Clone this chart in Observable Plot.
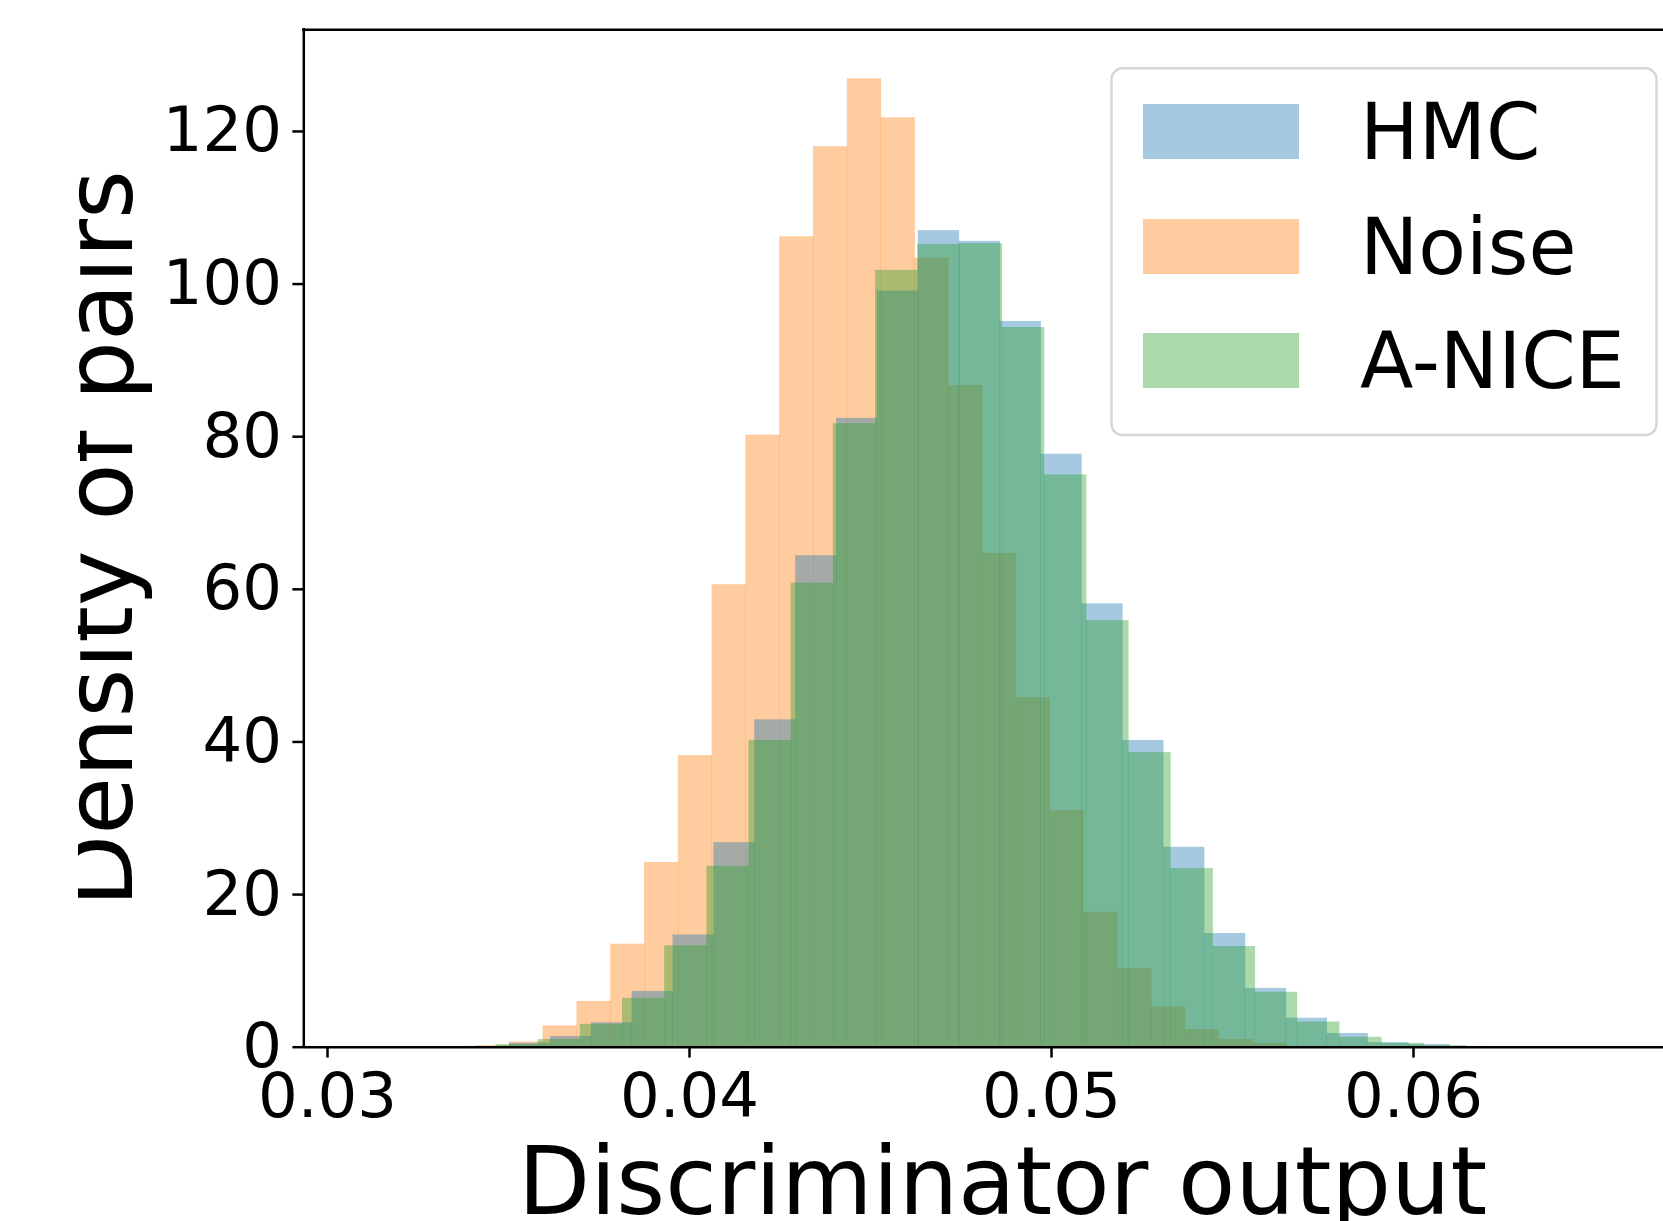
<!DOCTYPE html>
<html>
<head>
<meta charset="utf-8">
<script src="https://cdn.jsdelivr.net/npm/d3@7"></script>
<script src="https://cdn.jsdelivr.net/npm/@observablehq/plot@0.6"></script>
<style>
  html, body { margin: 0; padding: 0; background: white; overflow: hidden; }
  #chart svg { max-width: none !important; display: block; }
</style>
</head>
<body>
<div id="chart"></div>
<script>
// ---------------- data ----------------
const seriesNames = ["HMC", "Noise", "A-NICE"];
const seriesColors = ["#1f77b4", "#ff7f0e", "#2ca02c"];
// drawing order (bottom to top) as seen from the colour blends in the reference
const drawOrder = ["Noise", "HMC", "A-NICE"];

// HMC histogram (density), 30 uniform bins
const hmcFirstEdge = 0.031641;
const hmcBinWidth = 0.0011291;
const hmcDensity = [0.05, 0.05, 0.1, 0.5, 1.4, 3.2, 7.3, 14.7, 26.8, 42.9,
  64.4, 82.4, 99.1, 107.0, 105.6, 95.1, 77.7, 58.1, 40.2, 26.2,
  14.9, 7.7, 3.8, 1.8, 0.6, 0.35, 0.1, 0.05, 0.03, 0.02];

// Noise histogram (density), 30 uniform bins
const noiseFirstEdge = 0.031287;
const noiseBinWidth = 0.0009337;
const noiseDensity = [0.02, 0.02, 0.05, 0.2, 0.7, 2.8, 6.0, 13.5, 24.2, 38.2,
  60.6, 80.2, 106.2, 118.0, 126.9, 121.8, 103.4, 86.7, 64.7, 45.8,
  31.0, 17.7, 10.3, 5.3, 2.3, 1.0, 0.5, 0.1, 0.05, 0.02];

// A-NICE histogram (density), 30 uniform bins
const aniceFirstEdge = 0.03116;
const aniceBinWidth = 0.0011649;
const aniceDensity = [0.02, 0.05, 0.1, 0.35, 1.0, 3.0, 6.4, 13.3, 23.7, 40.2,
  60.8, 81.7, 101.8, 105.2, 105.3, 94.3, 75.0, 55.9, 38.6, 23.4,
  13.2, 7.2, 3.3, 1.3, 0.5, 0.2, 0.08, 0.04, 0.02, 0.02];

const xDomain = [0.029345, 0.066906];
const yDomain = [0, 133.32];
const xTicks = [0.03, 0.04, 0.05, 0.06];
const yTicks = [0, 20, 40, 60, 80, 100, 120];
const xLabel = "Discriminator output";
const yLabel = "Density of pairs";

// ---------------- build table ----------------
const hist = {
  "HMC": [hmcFirstEdge, hmcBinWidth, hmcDensity],
  "Noise": [noiseFirstEdge, noiseBinWidth, noiseDensity],
  "A-NICE": [aniceFirstEdge, aniceBinWidth, aniceDensity]
};
const rows = [];
drawOrder.forEach(name => {
  const [first, width, dens] = hist[name];
  dens.forEach((d, i) => rows.push({series: name, x1: first + i * width, x2: first + (i + 1) * width, density: d}));
});

const W = 1663, H = 1221;
const font = "DejaVu Sans";

const chart = Plot.plot({
  width: W,
  height: H,
  marginLeft: 303.3,
  marginRight: 0,
  marginTop: 29.3,
  marginBottom: 174.3,
  style: {fontFamily: font, fontSize: "62.5px", color: "black", background: "white", overflow: "visible"},
  x: {domain: xDomain},
  y: {domain: yDomain},
  color: {domain: seriesNames, range: seriesColors},
  marks: [
    Plot.rectY(rows, {x1: "x1", x2: "x2", y: "density", fill: "series", fillOpacity: 0.4, insetLeft: 0, insetRight: -0.5}),
    Plot.axisX({ticks: xTicks, tickFormat: d3.format(".2f"), tickSize: 10.9, tickPadding: 15, strokeWidth: 2.5, fontSize: 62.5, label: null}),
    Plot.axisY({ticks: yTicks, tickFormat: d3.format("d"), tickSize: 10.9, tickPadding: 10.9, strokeWidth: 2.5, fontSize: 62.5, label: null}),
    Plot.ruleY([yDomain[0]], {stroke: "black", strokeWidth: 2.5}),
    Plot.ruleY([yDomain[1]], {stroke: "black", strokeWidth: 2.5, strokeLinecap: "square"}),
    Plot.ruleX([xDomain[0]], {stroke: "black", strokeWidth: 2.5, strokeLinecap: "square"}),
    Plot.text([xLabel], {frameAnchor: "bottom", textAnchor: "middle", lineAnchor: "bottom", dx: 19, dy: 166.6, fontSize: 93.75, fill: "black"}),
    Plot.text([yLabel], {frameAnchor: "left", textAnchor: "middle", lineAnchor: "bottom", rotate: -90, dx: -171.6, fontSize: 93.75, fill: "black"})
  ]
});
document.getElementById("chart").appendChild(chart);

// ---------------- clip the y label on its left side as in the reference ----------------
const svg = d3.select(chart);
const defs = svg.insert("defs", ":first-child");
defs.append("clipPath").attr("id", "ylabclip")
  .append("rect").attr("x", 78).attr("y", 0).attr("width", W).attr("height", H);
const ytext = svg.selectAll("text").filter(function () { return this.textContent === yLabel; });
if (!ytext.empty()) {
  const g = ytext.node().parentNode;
  const wrapper = document.createElementNS("http://www.w3.org/2000/svg", "g");
  wrapper.setAttribute("clip-path", "url(#ylabclip)");
  g.parentNode.insertBefore(wrapper, g);
  wrapper.appendChild(g);
}

// ---------------- legend ----------------
const leg = svg.append("g").attr("class", "legend").attr("font-family", font).attr("text-anchor", "start");
leg.append("rect")
  .attr("x", 1111.5).attr("y", 68.3).attr("width", 545).attr("height", 366.7)
  .attr("rx", 11).attr("ry", 11)
  .attr("fill", "white").attr("fill-opacity", 0.8)
  .attr("stroke", "#cccccc").attr("stroke-opacity", 0.8).attr("stroke-width", 2.5);
const swatchTops = [104, 219, 333];
const baselines = [159, 274, 387.7];
seriesNames.forEach((name, i) => {
  leg.append("rect")
    .attr("x", 1143).attr("y", swatchTops[i]).attr("width", 156).attr("height", 55)
    .attr("fill", seriesColors[i]).attr("fill-opacity", 0.4);
  leg.append("text")
    .attr("x", 1360).attr("y", baselines[i])
    .attr("text-anchor", "start")
    .attr("font-size", 78).attr("fill", "black")
    .text(name);
});
</script>
</body>
</html>
